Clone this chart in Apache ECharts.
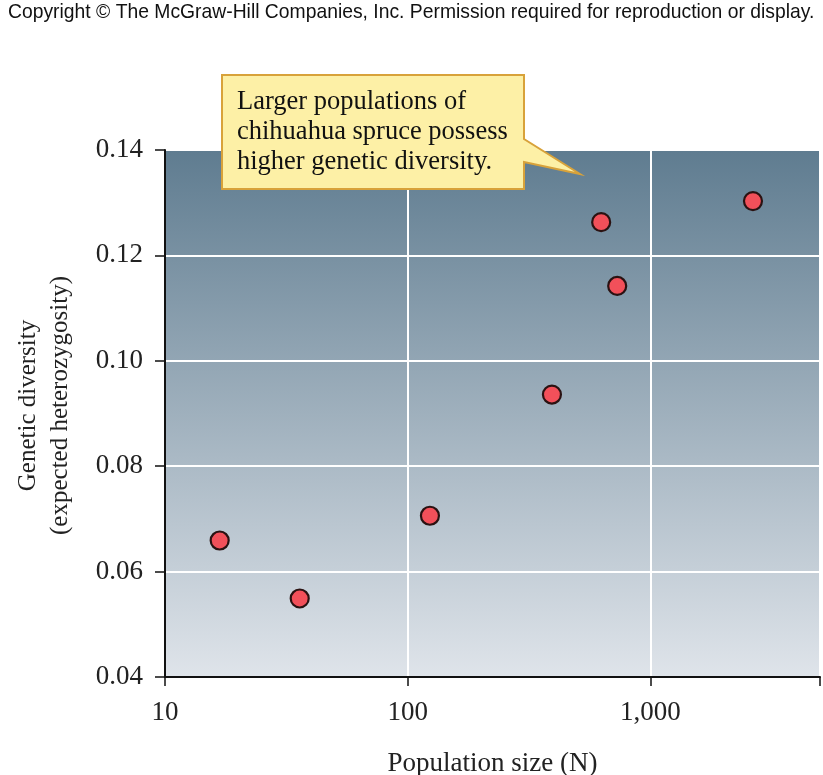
<!DOCTYPE html>
<html><head><meta charset="utf-8">
<script src="https://cdn.jsdelivr.net/npm/echarts@6/dist/echarts.min.js"></script>
<style>html,body{margin:0;padding:0;background:#fff}#c{width:823px;height:775px}</style>
</head><body><div id="c"></div>
<script>
const populationSize = [16.8, 35.9, 123.5, 393, 627, 730, 2647];
const geneticDiversity = [0.0659, 0.0549, 0.0706, 0.0936, 0.1263, 0.1142, 0.1303];
const yTicks = [0.04, 0.06, 0.08, 0.10, 0.12, 0.14];
const xTickLabels = {10: '10', 100: '100', 1000: '1,000'};
const calloutLines = ['Larger populations of', 'chihuahua spruce possess', 'higher genetic diversity.'];

const chart = echarts.init(document.getElementById('c'), null, {renderer: 'canvas'});
const serif = '"Liberation Serif", "DejaVu Serif", serif';
chart.setOption({
  animation: false,
  backgroundColor: '#fff',
  grid: {
    left: 165, right: 3, top: 150, bottom: 98, show: true, borderWidth: 0,
    containLabel: false, outerBoundsMode: 'none',
    backgroundColor: new echarts.graphic.LinearGradient(0, 0, 0, 1, [
      {offset: 0, color: '#5f7c90'},
      {offset: 1, color: '#dfe4ea'}
    ])
  },
  xAxis: {
    type: 'log', logBase: 10, min: 10, max: 5000,
    name: 'Population size (N)', nameLocation: 'middle', nameGap: 73,
    nameTextStyle: {fontFamily: serif, fontSize: 27, color: '#222'},
    axisLine: {show: true, onZero: false, lineStyle: {color: '#111', width: 2}},
    axisTick: {show: true, length: 9, lineStyle: {color: '#111', width: 1.5}},
    axisLabel: {fontFamily: serif, fontSize: 27, color: '#222', margin: 22,
      formatter: v => xTickLabels[Math.round(v)] || ''},
    splitLine: {show: true, lineStyle: {color: '#ffffff', width: 2}},
    minorTick: {show: false}
  },
  yAxis: {
    type: 'value', min: 0.04, max: 0.14, interval: 0.02,
    name: 'Genetic diversity\n(expected heterozygosity)', nameLocation: 'middle', nameGap: 89,
    nameTextStyle: {fontFamily: serif, fontSize: 25, color: '#222', lineHeight: 32, padding: [0, 0, 0, 16]},
    axisLine: {show: true, lineStyle: {color: '#111', width: 2}},
    axisTick: {show: true, length: 10, lineStyle: {color: '#111', width: 1.5}},
    axisLabel: {fontFamily: serif, fontSize: 27, color: '#222', margin: 22,
      formatter: v => v.toFixed(2)},
    splitLine: {show: true, lineStyle: {color: '#ffffff', width: 2}}
  },
  series: [{
    type: 'scatter',
    data: populationSize.map((x, i) => [x, geneticDiversity[i]]),
    symbol: 'circle', symbolSize: 18,
    itemStyle: {color: '#f2505a', borderColor: '#2a1212', borderWidth: 2.2, opacity: 1}
  }],
  graphic: [
    {type: 'text', x: 8, y: 2, scaleX: 0.92, style: {text: 'Copyright © The McGraw-Hill Companies, Inc. Permission required for reproduction or display.',
      font: '21px "Liberation Sans", Arial, sans-serif', fill: '#111'}},
    {type: 'polygon', shape: {points: [[222,75],[524,75],[524,139],[580,174],[524,162],[524,189],[222,189]]},
      style: {fill: '#fdf0a6', stroke: '#d8a23a', lineWidth: 2, lineJoin: 'miter'}, z: 100},
    {type: 'text', x: 237, y: 87, z: 101, style: {text: calloutLines.join('\n'),
      font: '26.5px "Liberation Serif", serif', fill: '#111', lineHeight: 30}}
  ]
});
</script></body></html>
